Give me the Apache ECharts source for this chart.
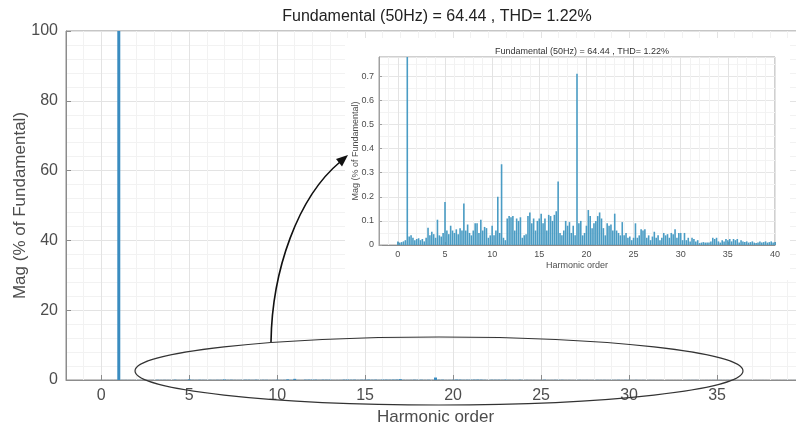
<!DOCTYPE html>
<html>
<head>
<meta charset="utf-8">
<script src="https://cdn.jsdelivr.net/npm/echarts@6/dist/echarts.min.js"></script>
<style>
  html, body { margin: 0; padding: 0; background: #fff; }
  #chart { width: 796px; height: 429px; }
</style>
</head>
<body>
<div id="chart"></div>
<script>
// spectrum bins, 0.2 harmonic apart, from order 0 to 40 (% of fundamental)
const binStep = 0.2;
const magnitude = [
  0.015, 0.01, 0.012, 0.015, 0.02, 100, 0.035, 0.04, 0.03, 0.02,       // 0 - 1.8
  0.025, 0.028, 0.02, 0.025, 0.015, 0.03, 0.072, 0.04, 0.055, 0.045,   // 2 - 3.8
  0.03, 0.105, 0.04, 0.035, 0.05, 0.178, 0.06, 0.045, 0.08, 0.06,      // 4 - 5.8
  0.05, 0.065, 0.045, 0.07, 0.06, 0.172, 0.06, 0.085, 0.05, 0.04,      // 6 - 7.8
  0.06, 0.09, 0.09, 0.05, 0.105, 0.06, 0.075, 0.07, 0.03, 0.04,        // 8 - 9.8
  0.08, 0.04, 0.06, 0.2, 0.05, 0.335, 0.03, 0.02, 0.11, 0.12,          // 10 - 11.8
  0.115, 0.12, 0.06, 0.11, 0.1, 0.115, 0.03, 0.04, 0.045, 0.12,        // 12 - 13.8
  0.135, 0.09, 0.11, 0.06, 0.1, 0.11, 0.13, 0.09, 0.11, 0.06,          // 14 - 15.8
  0.125, 0.12, 0.1, 0.125, 0.14, 0.263, 0.05, 0.04, 0.06, 0.1,         // 16 - 17.8
  0.08, 0.095, 0.05, 0.08, 0.04, 0.71, 0.09, 0.1, 0.04, 0.05,          // 18 - 19.8
  0.08, 0.145, 0.12, 0.07, 0.09, 0.1, 0.12, 0.135, 0.11, 0.07,         // 20 - 21.8
  0.04, 0.09, 0.08, 0.085, 0.06, 0.13, 0.06, 0.05, 0.04, 0.095,        // 22 - 23.8
  0.04, 0.05, 0.03, 0.035, 0.02, 0.03, 0.09, 0.03, 0.04, 0.065,        // 24 - 25.8
  0.06, 0.065, 0.03, 0.04, 0.02, 0.035, 0.055, 0.03, 0.04, 0.02,       // 26 - 27.8
  0.03, 0.05, 0.04, 0.045, 0.03, 0.05, 0.045, 0.065, 0.03, 0.05,       // 28 - 29.8
  0.05, 0.02, 0.05, 0.02, 0.03, 0.015, 0.03, 0.025, 0.015, 0.02,       // 30 - 31.8
  0.008, 0.01, 0.012, 0.01, 0.01, 0.01, 0.015, 0.03, 0.025, 0.03,      // 32 - 33.8
  0.015, 0.01, 0.02, 0.015, 0.025, 0.02, 0.025, 0.015, 0.025, 0.02,    // 34 - 35.8
  0.025, 0.01, 0.02, 0.015, 0.012, 0.015, 0.01, 0.012, 0.015, 0.01,    // 36 - 37.8
  0.008, 0.01, 0.015, 0.01, 0.012, 0.015, 0.01, 0.012, 0.015, 0.01,    // 38 - 39.8
  0.012                                                                // 40
];
const titleText = 'Fundamental (50Hz) = 64.44 , THD= 1.22%';
const xName = 'Harmonic order';
const yName = 'Mag (% of Fundamental)';

const font = 'Liberation Sans, Arial, sans-serif';
const labelColor = '#4d4d4d';

const spectrum = magnitude.map((v, i) => [+(i * binStep).toFixed(1), v]);

const chart = echarts.init(document.getElementById('chart'));

// shared look of a MATLAB-style axis
function makeXAxis(gridIndex, fontSize, margin, nameSize, nameGap, z) {
  return {
    type: 'value',
    gridIndex: gridIndex,
    min: -2,
    max: 40,
    splitNumber: 8,
    minInterval: 5,
    maxInterval: 5,
    z: z,
    name: xName,
    nameLocation: 'middle',
    nameGap: nameGap,
    nameTextStyle: { fontSize: nameSize, color: labelColor, fontFamily: font },
    axisLine: { onZero: false, lineStyle: { color: '#8c8c8c', width: 1 } },
    axisTick: { inside: true, length: gridIndex === 0 ? 5 : 3, lineStyle: { color: '#8c8c8c' } },
    axisLabel: {
      showMinLabel: false, showMaxLabel: true, hideOverlap: false,
      fontSize: fontSize, color: labelColor, fontFamily: font, margin: margin
    },
    splitLine: { show: true, lineStyle: { color: '#e3e3e3', width: 1 } },
    minorTick: { show: false, splitNumber: 5 },
    minorSplitLine: { show: true, lineStyle: { color: '#f2f2f2', width: 1 } }
  };
}

const option = {
  backgroundColor: '#fff',
  animation: false,
  title: [
    {
      text: titleText,
      left: 432,
      textAlign: 'center',
      top: 4,
      textStyle: { fontSize: 16, fontWeight: 'normal', color: '#222', fontFamily: font }
    },
    {
      text: titleText,
      left: 577,
      textAlign: 'center',
      top: 42,
      z: 8,
      textStyle: { fontSize: 9, fontWeight: 'normal', color: '#333', fontFamily: font }
    }
  ],
  grid: [
    {
      left: 66, top: 31, width: 739, height: 349,
      outerBoundsMode: 'none',
      show: true, borderColor: '#8c8c8c', borderWidth: 1, backgroundColor: '#fff'
    },
    {
      left: 379, top: 57, width: 396, height: 188, z: 6,
      outerBoundsMode: 'none',
      show: true, borderColor: '#a0a0a0', borderWidth: 1, backgroundColor: '#fff'
    }
  ],
  xAxis: [
    makeXAxis(0, 16, 8, 17, 18, 0),
    makeXAxis(1, 9, 5, 9, 16, 7)
  ],
  yAxis: [
    {
      type: 'value',
      gridIndex: 0,
      min: 0,
      max: 100,
      interval: 20,
      name: yName,
      nameLocation: 'middle',
      nameGap: 37,
      nameMoveOverlap: false,
      nameTextStyle: { fontSize: 17, color: labelColor, fontFamily: font },
      axisLine: { show: true, onZero: false, lineStyle: { color: '#8c8c8c' } },
      axisTick: { show: true, inside: true, length: 5, lineStyle: { color: '#8c8c8c' } },
      axisLabel: { fontSize: 16, color: labelColor, fontFamily: font, margin: 8 },
      splitLine: { show: true, lineStyle: { color: '#e3e3e3' } },
      minorSplitLine: { show: true, lineStyle: { color: '#f2f2f2' } },
      minorTick: { splitNumber: 5 }
    },
    {
      type: 'value',
      gridIndex: 1,
      min: 0,
      max: 0.78,
      interval: 0.1,
      z: 7,
      name: yName,
      nameLocation: 'middle',
      nameGap: 19,
      nameMoveOverlap: false,
      nameTextStyle: { fontSize: 9, color: labelColor, fontFamily: font },
      axisLine: { show: true, onZero: false, lineStyle: { color: '#a0a0a0' } },
      axisTick: { show: true, inside: true, length: 3, lineStyle: { color: '#a0a0a0' } },
      axisLabel: { showMaxLabel: false, fontSize: 9, color: labelColor, fontFamily: font, margin: 5 },
      splitLine: { show: true, lineStyle: { color: '#e6e6e6' } },
      minorSplitLine: { show: true, lineStyle: { color: '#f3f3f3' } },
      minorTick: { splitNumber: 2 }
    }
  ],
  series: [
    {
      type: 'bar',
      xAxisIndex: 0,
      yAxisIndex: 0,
      data: spectrum,
      barWidth: 3,
      itemStyle: { color: '#3a8cc0' }
    },
    {
      type: 'bar',
      xAxisIndex: 1,
      yAxisIndex: 1,
      data: spectrum,
      barWidth: 1.6,
      z: 8,
      clip: true,
      itemStyle: { color: '#4a9cc4' }
    }
  ],
  graphic: [
    {
      // white panel behind the zoomed inset
      type: 'rect',
      z: 5,
      shape: { x: 345, y: 38, width: 445, height: 242 },
      style: { fill: '#fff' }
    },
    {
      type: 'ellipse',
      z: 20,
      shape: { cx: 439, cy: 371, rx: 304, ry: 34 },
      style: { fill: 'none', stroke: '#333', lineWidth: 1.2 }
    },
    {
      type: 'bezierCurve',
      z: 20,
      shape: { x1: 271, y1: 342, cpx1: 272, cpy1: 270, cpx2: 298, cpy2: 197, x2: 340, y2: 162 },
      style: { fill: 'none', stroke: '#111', lineWidth: 1.6 }
    },
    {
      type: 'polygon',
      z: 20,
      shape: { points: [[348, 155], [342, 166.5], [336, 159]] },
      style: { fill: '#111' }
    }
  ]
};

chart.setOption(option);
</script>
</body>
</html>
